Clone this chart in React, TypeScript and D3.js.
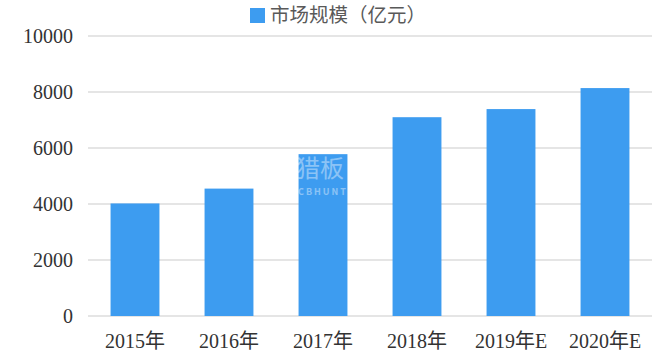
import React from "react";
import * as d3 from "d3";

const WIDTH = 671;
const HEIGHT = 362;
const MARGIN = { top: 36, left: 88, right: 19, bottom: 46 };

const years = ["2015年", "2016年", "2017年", "2018年", "2019年E", "2020年E"];
const marketSize = [4020, 4550, 5780, 7100, 7390, 8140];
const yTicks = [0, 2000, 4000, 6000, 8000, 10000];
const seriesName = "市场规模（亿元）";

const BAR_COLOR = "#3d9cf0";
const SERIF = "'Liberation Serif', 'Times New Roman', 'Noto Sans CJK SC', serif";

export default function App() {
  const x = d3
    .scaleBand()
    .domain(years)
    .range([MARGIN.left, WIDTH - MARGIN.right])
    .paddingInner(0.48)
    .paddingOuter(0.24);
  const y = d3
    .scaleLinear()
    .domain([0, 10000])
    .range([HEIGHT - MARGIN.bottom, MARGIN.top]);

  return (
    <svg
      width={WIDTH}
      height={HEIGHT}
      style={{ position: "absolute", left: 0, top: 0, background: "#fff" }}
    >
      {/* legend */}
      <rect x={250} y={8} width={15} height={15} fill={BAR_COLOR} />
      <text x={270} y={22} fontSize={19.5} fill="#595959" fontFamily="'Noto Sans CJK SC', sans-serif">
        {seriesName}
      </text>

      {/* grid + y labels */}
      {yTicks.map(t => (
        <g key={t}>
          <line
            x1={MARGIN.left}
            x2={WIDTH - MARGIN.right}
            y1={y(t)}
            y2={y(t)}
            stroke="#dcdcdc"
            strokeWidth={1.5}
          />
          <text
            x={73}
            y={y(t) + 7}
            textAnchor="end"
            fontSize={20}
            fill="#333"
            fontFamily={SERIF}
          >
            {t}
          </text>
        </g>
      ))}

      {/* bars */}
      {years.map((yr, i) => (
        <rect
          key={yr}
          x={x(yr)}
          y={y(marketSize[i])}
          width={x.bandwidth()}
          height={y(0) - y(marketSize[i])}
          fill={BAR_COLOR}
        />
      ))}

      {/* x labels */}
      {years.map(yr => (
        <text
          key={yr}
          x={(x(yr) ?? 0) + x.bandwidth() / 2}
          y={348}
          textAnchor="middle"
          fontSize={20}
          fill="#333"
          fontFamily={SERIF}
        >
          {yr}
        </text>
      ))}

      {/* watermark */}
      <g fill="#fff" opacity={0.4} fontFamily="'Noto Sans CJK SC', sans-serif">
        <text x={296} y={177} fontSize={24}>猎板</text>
        <text x={290} y={195} fontSize={9} letterSpacing={2} fontWeight="bold">PCBHUNT</text>
      </g>
    </svg>
  );
}
